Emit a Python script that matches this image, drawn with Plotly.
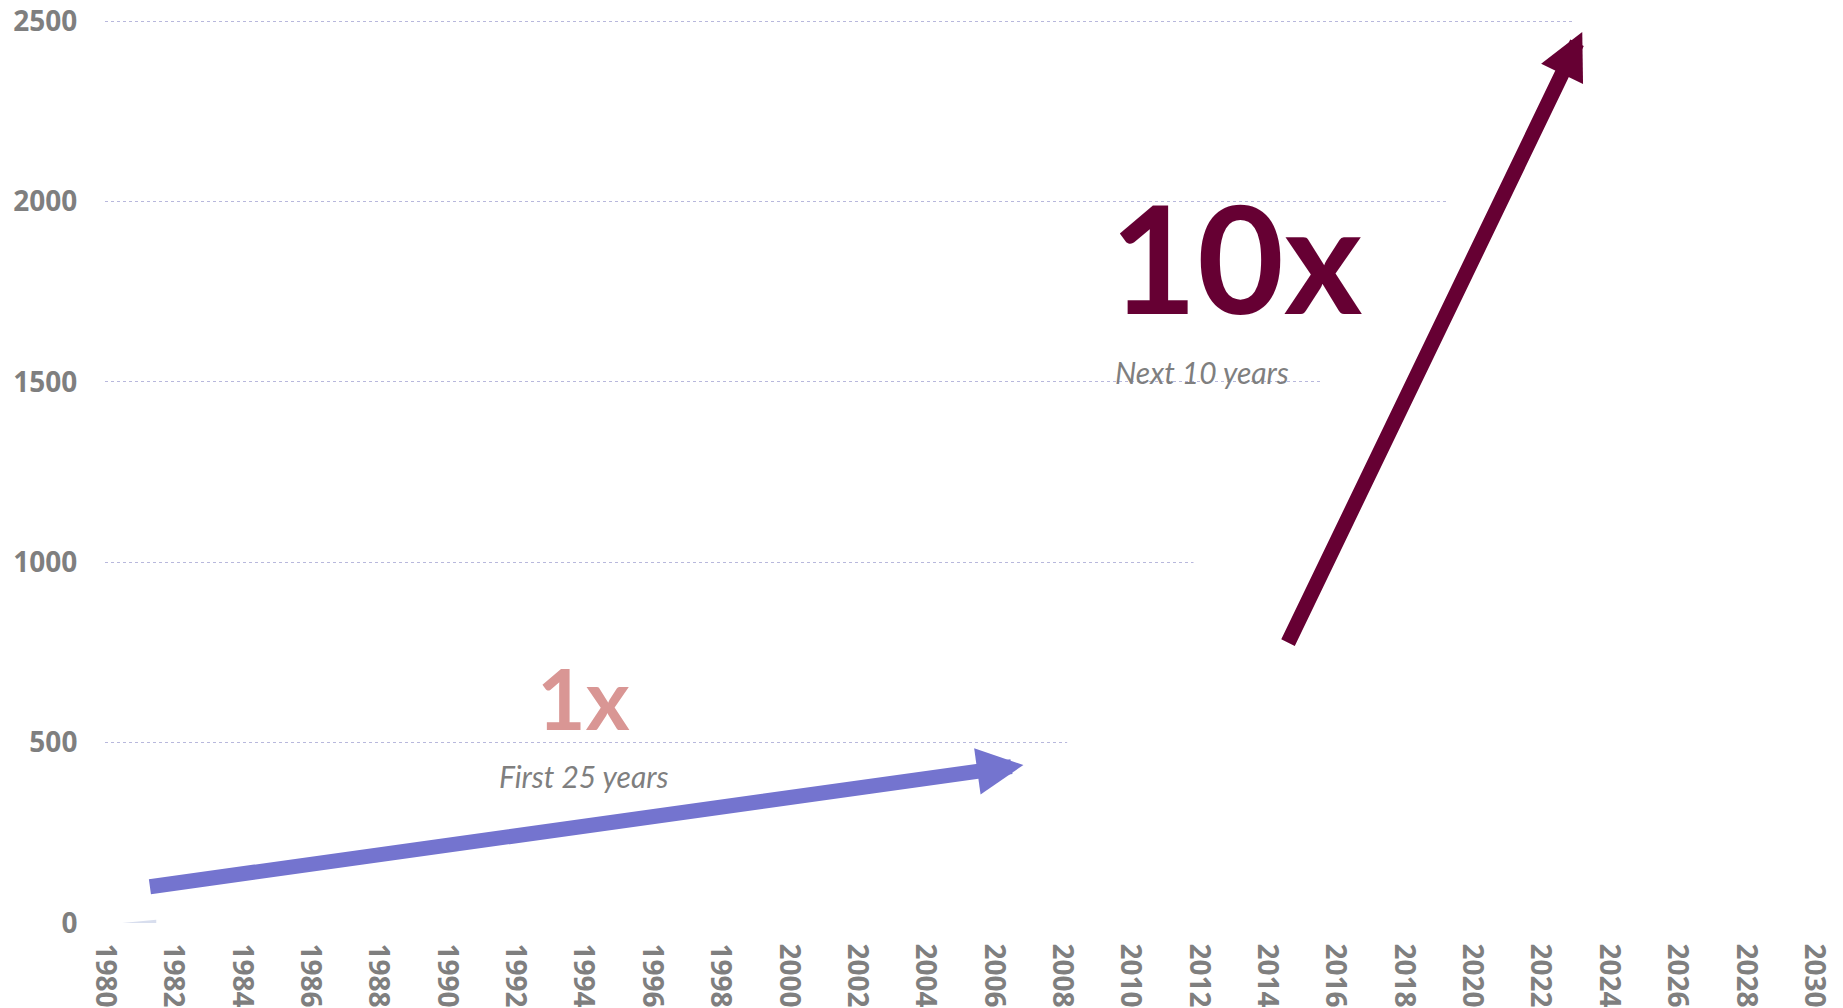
import plotly.graph_objects as go

# Hidden white area (masks gridlines to the right of the growth curve)
curve_years = [1980, 1990, 2000, 2004, 2006, 2008, 2012, 2016, 2020, 2024, 2030]
curve_values = [0, 0, 0, 0, 230, 480, 1020, 1560, 2100, 2640, 3460]

# Small sliver near the origin
sliver_years = [1980.5, 1981.5]
sliver_values = [0, 9]

# Arrows: [tail, head]
blue_arrow_x = [1981.27, 2006.87]
blue_arrow_y = [100, 438]
dark_arrow_x = [2014.59, 2023.22]
dark_arrow_y = [773, 2470]

# Labels
big_labels = ["1x", "10x"]
big_label_x = [1994.0, 2013.1]
big_label_y = [624, 1850]
sub_labels = ["First 25 years", "Next 10 years"]
sub_label_x = [1994.0, 2012.1]
sub_label_y = [407, 1527]

x_ticks = list(range(1980, 2031, 2))
y_ticks = [0, 500, 1000, 1500, 2000, 2500]

GRAY = "#7f7f7f"
BLUE = "#7474cf"
DARK = "#660033"
PINK = "#d99694"

fig = go.Figure()
fig.add_trace(go.Scatter(x=curve_years, y=curve_values, mode="lines",
                         line=dict(color="white", width=0), fill="tozeroy",
                         fillcolor="white", hoverinfo="skip", showlegend=False))
fig.add_trace(go.Scatter(x=sliver_years, y=sliver_values, mode="lines",
                         line=dict(color="#d8deee", width=0), fill="tozeroy",
                         fillcolor="#d8deee", hoverinfo="skip", showlegend=False))

for xs, ys, col in [(blue_arrow_x, blue_arrow_y, BLUE), (dark_arrow_x, dark_arrow_y, DARK)]:
    fig.add_annotation(x=xs[1], y=ys[1], ax=xs[0], ay=ys[0], xref="x", yref="y",
                       axref="x", ayref="y", text="", showarrow=True,
                       arrowhead=2, arrowwidth=15, arrowsize=0.62, arrowcolor=col)

colors_big = [PINK, DARK]
sizes_big = [84, 150]
for t, x, y, c, s in zip(big_labels, big_label_x, big_label_y, colors_big, sizes_big):
    fig.add_annotation(x=x, y=y, text=t, showarrow=False, xanchor="center", yanchor="middle",
                       font=dict(family="Lato", size=s, color=c, weight="bold"))
for t, x, y in zip(sub_labels, sub_label_x, sub_label_y):
    fig.add_annotation(x=x, y=y, text=t, showarrow=False, xanchor="center", yanchor="middle",
                       font=dict(family="Lato", size=30, color=GRAY, style="italic"))

fig.update_layout(
    width=1843, height=1008,
    margin=dict(l=105, r=29, t=20, b=85, autoexpand=False),
    paper_bgcolor="white", plot_bgcolor="white",
    showlegend=False,
    xaxis=dict(range=[1980, 2030], tickvals=x_ticks, ticktext=[str(v) for v in x_ticks],
               tickangle=90, showgrid=False, zeroline=False, showline=False,
               automargin=False,
               ticks="outside", ticklen=14, tickcolor="white",
               tickfont=dict(family="Open Sans", size=28, color=GRAY, weight="bold")),
    yaxis=dict(range=[0, 2503], tickvals=y_ticks, showgrid=True, gridcolor="#b8b8dc",
               griddash="dot", gridwidth=1, zeroline=False, showline=False,
               automargin=False,
               ticks="outside", ticklen=21, tickcolor="white",
               tickfont=dict(family="Open Sans", size=28, color=GRAY, weight="bold")),
)

fig.write_html("out.html")
